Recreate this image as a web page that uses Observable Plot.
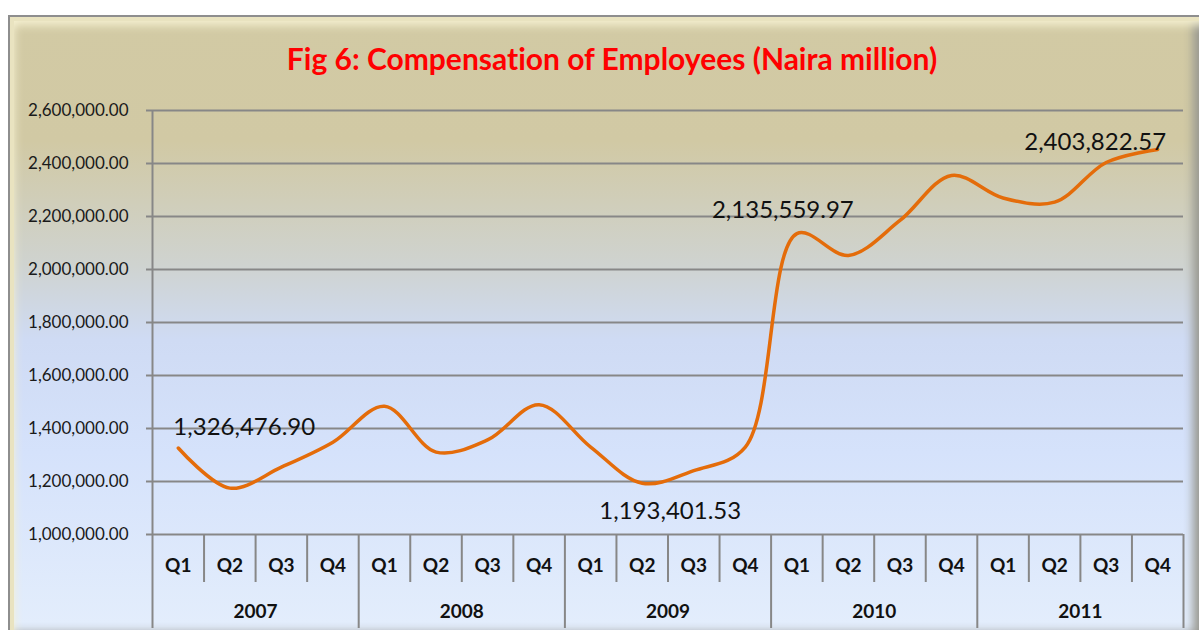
<!DOCTYPE html>
<html>
<head>
<meta charset="utf-8">
<script src="https://cdn.jsdelivr.net/npm/d3@7"></script>
<script src="https://cdn.jsdelivr.net/npm/@observablehq/plot@0.6"></script>
<style>
  html, body { margin: 0; padding: 0; background: #ffffff; width: 1199px; height: 630px; overflow: hidden; font-family: Lato, "Open Sans", sans-serif; font-variant-ligatures: none; }
  #frame {
    position: absolute; left: 8px; top: 15px; width: 1195px; height: 625px; box-sizing: border-box;
    border: 2px solid #8e8e8e;
    background: linear-gradient(to bottom, #d2caa4 0%, #d1c9a4 20%, #cfd3d0 40%, #cfdbf4 52%, #d5e2fb 70%, #e4eefc 100%);
    box-shadow: inset 4px 4px 0 #e9e3c0, inset 10px 14px 10px -6px #f6f1d2, inset -14px 0 10px -6px #9a9a92, inset 0 -12px 10px -6px #9a9a9a;
  }
  #title {
    position: absolute; left: 12px; width: 1200px; top: 39px; text-align: center;
    color: #ff0000; font-weight: bold; font-size: 30px; line-height: 38px; font-family: Lato, "Open Sans", sans-serif;
    font-variant-ligatures: none;
  }
  #chart { position: absolute; left: 0; top: 80px; }
  #chart svg text { font-variant-ligatures: none; }
</style>
</head>
<body>
<div id="frame"></div>
<div id="title">Fig 6: Compensation of Employees (Naira million)</div>
<div id="chart"></div>
<script>
const years = ["2007", "2008", "2009", "2010", "2011"];
const quarters = ["Q1", "Q2", "Q3", "Q4"];
const values = [
  1326476.90, 1175000, 1254000, 1348000,
  1484000, 1311000, 1357000, 1490000,
  1330000, 1193401.53, 1241000, 1330000,
  2135559.97, 2053000, 2185000, 2355000,
  2270000, 2254000, 2403822.57, 2453000
];
const yTicks = [1000000, 1200000, 1400000, 1600000, 1800000, 2000000, 2200000, 2400000, 2600000];

const data = values.map((v, i) => ({
  key: years[Math.floor(i / 4)] + " " + quarters[i % 4],
  year: years[Math.floor(i / 4)],
  q: quarters[i % 4],
  v,
  i
}));
const keys = data.map(d => d.key);

const W = 1199, H = 550;
const mL = 152, mR = 16, mT = 30, mB = 96;
const bw = (W - mL - mR) / keys.length;
const fmt = d3.format(",.2f");
const gridColor = "#878787";

const lab = (idx, dx, dy) => Plot.text(data.filter(d => d.i === idx), {
  x: "key", y: "v", text: d => fmt(d.v), dx, dy,
  fontSize: 24, fill: "#111", textAnchor: "middle", lineAnchor: "middle"
});

const chart = Plot.plot({
  width: W, height: H,
  marginLeft: mL, marginRight: mR, marginTop: mT, marginBottom: mB,
  style: { background: "transparent", fontFamily: "Lato, 'Open Sans', sans-serif", fontSize: "17px", color: "#1a1a1a", overflow: "visible" },
  x: { type: "band", domain: keys, padding: 0, round: false, axis: null },
  y: { domain: [1000000, 2600000], ticks: yTicks, tickFormat: fmt, tickSize: 0, tickPadding: 24, label: null },
  marks: [
    Plot.ruleY(yTicks, { stroke: gridColor, strokeWidth: 2, insetLeft: -6 }),
    Plot.ruleX([keys[0]], { dx: -bw / 2, stroke: gridColor, strokeWidth: 2, insetBottom: -94 }),
    Plot.ruleX(data.filter(d => d.q !== "Q1"), { x: "key", dx: -bw / 2, stroke: gridColor, strokeWidth: 2, insetTop: H - mT - mB, insetBottom: -48 }),
    Plot.ruleX(data.filter(d => d.q === "Q1" && d.i > 0), { x: "key", dx: -bw / 2, stroke: gridColor, strokeWidth: 2, insetTop: H - mT - mB, insetBottom: -94 }),
    Plot.ruleX([keys[keys.length - 1]], { dx: bw / 2, stroke: gridColor, strokeWidth: 2, insetTop: H - mT - mB, insetBottom: -94 }),
    Plot.text(data, { x: "key", text: "q", frameAnchor: "bottom", dy: 31, lineAnchor: "middle", fontWeight: "bold", fontSize: 19, fill: "#111" }),
    Plot.text(data.filter(d => d.q === "Q2"), { x: "key", text: "year", frameAnchor: "bottom", dx: bw / 2, dy: 77, lineAnchor: "middle", fontWeight: "bold", fontSize: 19, fill: "#111" }),
    Plot.line(data, { x: "key", y: "v", stroke: "#e46c0a", strokeWidth: 3.5, curve: "catmull-rom" }),
    lab(0, 66, -21),
    lab(9, 28, 28),
    lab(12, -14, -23),
    lab(18, -11, -20)
  ]
});
document.getElementById("chart").appendChild(chart);
</script>
</body>
</html>
